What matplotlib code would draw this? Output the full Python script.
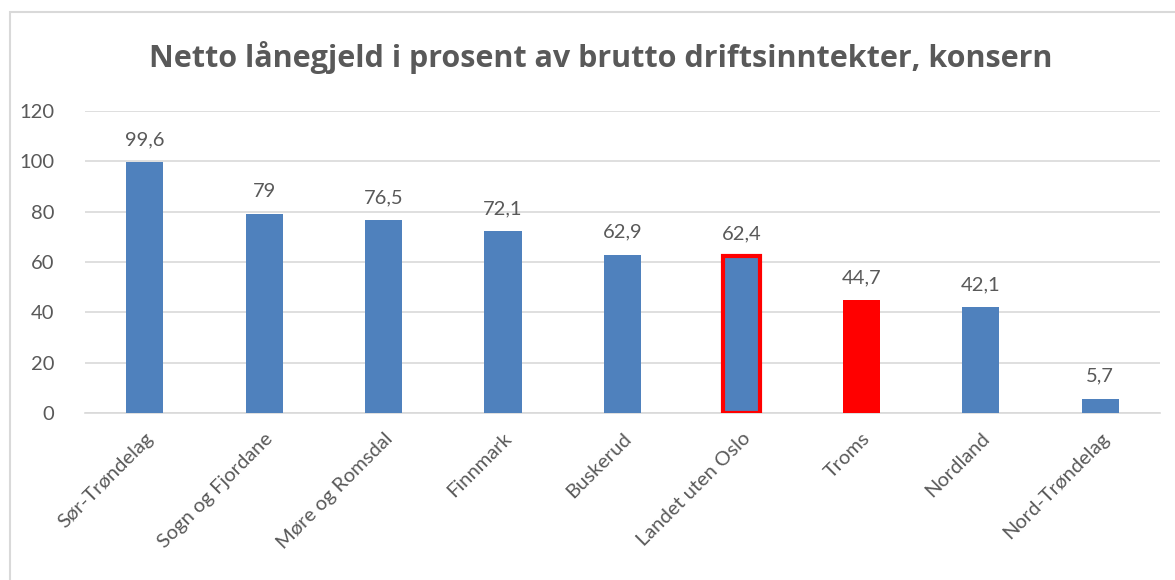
import matplotlib.pyplot as plt
from matplotlib.patches import Rectangle

# --- Data ---
regions = ['Sør-Trøndelag', 'Sogn og Fjordane', 'Møre og Romsdal', 'Finnmark',
           'Buskerud', 'Landet uten Oslo', 'Troms', 'Nordland', 'Nord-Trøndelag']
values = [99.6, 79, 76.5, 72.1, 62.9, 62.4, 44.7, 42.1, 5.7]
value_labels = ['99,6', '79', '76,5', '72,1', '62,9', '62,4', '44,7', '42,1', '5,7']
y_ticks = [0, 20, 40, 60, 80, 100, 120]

blue = '#4F81BD'
red = '#FF0000'
text_col = '#595959'

plt.rcParams['font.family'] = ['Lato', 'DejaVu Sans']

fig = plt.figure(figsize=(11.75, 5.8), dpi=100)
ax = fig.add_axes([0.0723, 0.288, 0.9149, 0.521])

colors = [red if r == 'Troms' else blue for r in regions]
bars = ax.bar(range(len(regions)), values, width=0.31, color=colors, zorder=3)

# highlighted bar gets a red outline
hl = regions.index('Landet uten Oslo')
bars[hl].set_edgecolor(red)
bars[hl].set_linewidth(3)

for b, lab in zip(bars, value_labels):
    ax.annotate(lab, (b.get_x() + b.get_width() / 2, b.get_height()),
                xytext=(0, 10), textcoords='offset points',
                ha='center', va='bottom', fontsize=14.5, color=text_col)

ax.set_xlim(-0.5, len(regions) - 0.5)
ax.set_ylim(0, 120)
ax.set_yticks(y_ticks)
ax.set_yticklabels([str(t) for t in y_ticks], fontsize=14.5, color=text_col)
ax.set_xticks(range(len(regions)))
ax.set_xticklabels(regions, rotation=45, ha='right', rotation_mode='anchor',
                   fontsize=14.5, color=text_col)
ax.tick_params(axis='both', length=0)
ax.tick_params(axis='y', pad=22)
ax.tick_params(axis='x', pad=12)

ax.grid(axis='y', color='#D9D9D9', linewidth=1.2, zorder=0)
for s in ['top', 'right', 'left']:
    ax.spines[s].set_visible(False)
ax.spines['bottom'].set_color('#D9D9D9')
ax.spines['bottom'].set_linewidth(1.2)

fig.text(0.511, 0.9, 'Netto lånegjeld i prosent av brutto driftsinntekter, konsern',
         ha='center', va='center', fontsize=22, fontweight='bold', color=text_col,
         family=['Open Sans', 'DejaVu Sans'])

# outer chart frame
fig.patches.append(Rectangle((0.0085, -0.1), 1.1, 1.079, transform=fig.transFigure,
                             fill=False, edgecolor='#D9D9D9', linewidth=1.5))

fig.savefig('out.png', dpi=100)
